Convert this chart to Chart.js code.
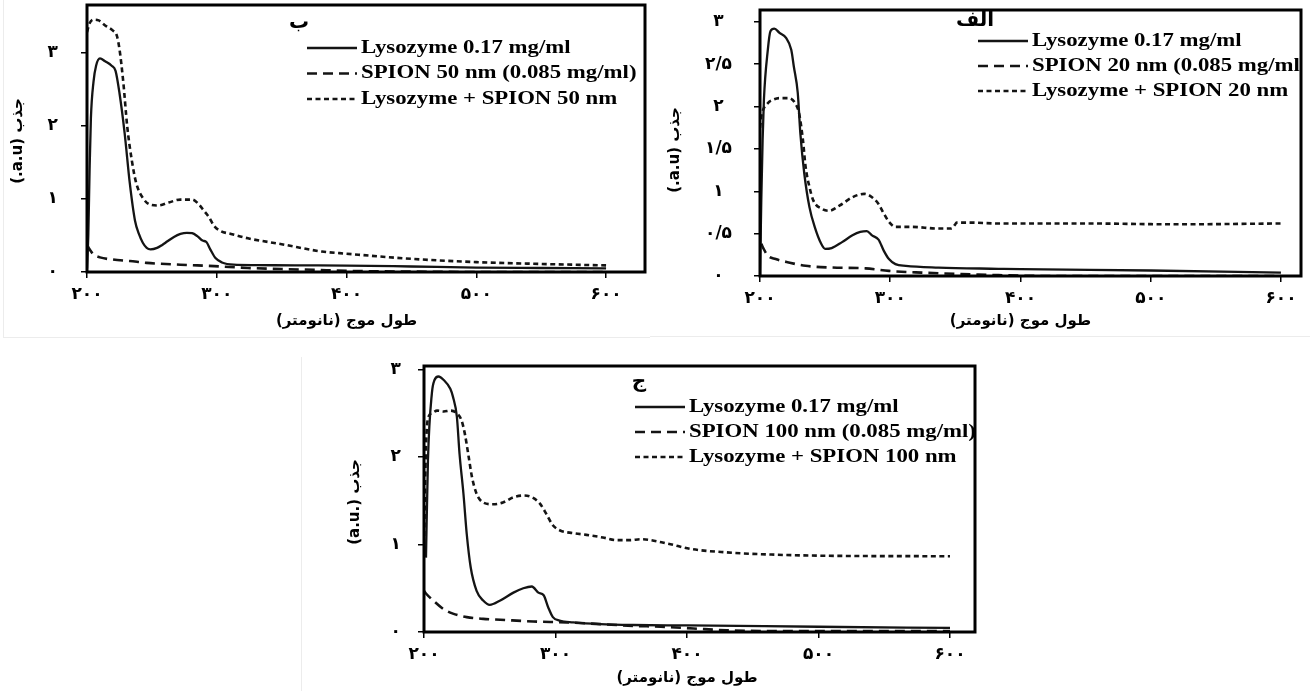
<!DOCTYPE html>
<html lang="fa">
<head>
<meta charset="utf-8">
<title>UV-Vis</title>
<script src="https://cdn.jsdelivr.net/npm/chart.js@4.4.0/dist/chart.umd.min.js"></script>
<style>
  html, body { margin: 0; padding: 0; background: #fff; }
  body { width: 1310px; height: 691px; position: relative; overflow: hidden; }
  .panel { position: absolute; }
  .panel canvas { display: block; }
  .rule { position: absolute; background: #ececec; }
</style>
</head>
<body>
<div class="rule" style="left:3px;top:0;width:1px;height:337px"></div>
<div class="rule" style="left:3px;top:337px;width:647px;height:1px"></div>
<div class="rule" style="left:650px;top:336px;width:660px;height:1px"></div>
<div class="rule" style="left:301px;top:357px;width:1px;height:334px"></div>

<div class="panel" style="left:0;top:0"><canvas id="chart50" width="650" height="340"></canvas></div>
<div class="panel" style="left:650px;top:0"><canvas id="chart20" width="660" height="340"></canvas></div>
<div class="panel" style="left:300px;top:350px"><canvas id="chart100" width="700" height="341"></canvas></div>

<script>
// axis ticks
const nmTicks = [200, 300, 400, 500, 600]
const absTicks = [0, 1, 2, 3]
const absTicksHalf = [0, 0.5, 1, 1.5, 2, 2.5, 3]

// ---- SPION 50 nm (panel ب) ----
const lysoNm50 = [200, 201, 202, 203, 205, 207, 210, 214, 219, 222, 225, 229, 233, 237, 240, 243, 246, 249, 254, 258, 262, 267, 272, 277, 281, 285, 289, 292, 295, 299, 304, 313, 330, 360, 400, 450, 500, 550, 600]
const lysoAbs50 = [0.05, 0.5, 1.4, 2.1, 2.6, 2.82, 2.92, 2.88, 2.82, 2.75, 2.45, 1.9, 1.21, 0.7, 0.52, 0.4, 0.33, 0.31, 0.33, 0.37, 0.42, 0.48, 0.52, 0.535, 0.53, 0.49, 0.43, 0.41, 0.31, 0.19, 0.13, 0.1, 0.095, 0.09, 0.088, 0.075, 0.06, 0.055, 0.05]
const spionNm50 = [200, 202, 205, 210, 220, 233, 246, 272, 298, 324, 350, 375, 391, 400, 420, 450, 500, 600]
const spionAbs50 = [0.37, 0.31, 0.24, 0.2, 0.17, 0.15, 0.125, 0.1, 0.08, 0.055, 0.04, 0.03, 0.02, 0.015, 0.01, 0.005, 0, 0]
const mixNm50 = [200, 202, 205, 209, 214, 220, 223, 225, 228, 231, 234.5, 238, 243.5, 249, 255, 263, 272, 281, 286, 290, 294, 298, 303, 311, 324, 350, 381, 400, 450, 500, 550, 600]
const mixAbs50 = [3.28, 3.4, 3.45, 3.44, 3.37, 3.3, 3.23, 3.05, 2.59, 1.99, 1.53, 1.21, 1.0, 0.92, 0.91, 0.95, 0.99, 0.99, 0.93, 0.84, 0.75, 0.63, 0.56, 0.52, 0.46, 0.38, 0.28, 0.25, 0.18, 0.135, 0.11, 0.09]
const labels50 = ['Lysozyme 0.17 mg/ml', 'SPION 50 nm (0.085 mg/ml)', 'Lysozyme + SPION 50 nm']

// ---- SPION 20 nm (panel الف) ----
const lysoNm20 = [200, 201, 202, 203, 206, 208, 211, 215, 220, 224, 226, 229, 231, 234, 238, 242, 247, 250, 255, 263, 271, 277, 282, 286, 291, 295, 299, 304, 312, 337, 383, 400, 500, 600]
const lysoAbs20 = [0, 0.9, 1.6, 2.08, 2.67, 2.89, 2.92, 2.87, 2.81, 2.67, 2.47, 2.16, 1.68, 1.21, 0.81, 0.58, 0.38, 0.32, 0.33, 0.4, 0.48, 0.52, 0.53, 0.48, 0.43, 0.3, 0.2, 0.14, 0.12, 0.1, 0.085, 0.08, 0.065, 0.04]
const spionNm20 = [201, 202.5, 206, 212, 222, 235, 255, 281, 299, 324, 362, 383, 420, 600]
const spionAbs20 = [0.38, 0.33, 0.24, 0.2, 0.16, 0.12, 0.1, 0.09, 0.06, 0.04, 0.02, 0.01, 0, 0]
const mixNm20 = [200, 201, 206, 210, 215, 222, 227, 230, 233, 235, 238, 241, 248, 253, 261, 271, 280, 286, 291, 295, 299, 304, 316, 337, 347, 349.5, 351, 362, 383, 450, 520, 600]
const mixAbs20 = [1.75, 1.88, 2.04, 2.08, 2.1, 2.1, 2.04, 1.92, 1.6, 1.29, 1.05, 0.89, 0.79, 0.77, 0.83, 0.93, 0.97, 0.93, 0.85, 0.74, 0.64, 0.58, 0.58, 0.56, 0.56, 0.6, 0.63, 0.63, 0.62, 0.62, 0.61, 0.62]
const labels20 = ['Lysozyme 0.17 mg/ml', 'SPION 20 nm (0.085 mg/ml)', 'Lysozyme + SPION 20 nm']

// ---- SPION 100 nm (panel ج) ----
const lysoNm100 = [201.5, 203, 206, 208, 211, 215, 220, 222, 225, 227, 230, 232.5, 235.5, 240, 245, 250, 258, 268, 275.5, 282, 287, 291, 294.5, 298, 303, 313.5, 334, 359, 400, 500, 600]
const lysoAbs100 = [0.85, 1.96, 2.73, 2.88, 2.92, 2.88, 2.78, 2.69, 2.46, 2.04, 1.58, 1.12, 0.74, 0.47, 0.36, 0.31, 0.36, 0.45, 0.5, 0.52, 0.45, 0.42, 0.28, 0.17, 0.13, 0.11, 0.09, 0.08, 0.075, 0.06, 0.046]
const spionNm100 = [200, 201.5, 207, 215, 222, 232.5, 245, 258, 283, 308.5, 334, 359, 380, 405, 430, 470, 600]
const spionAbs100 = [0.47, 0.44, 0.36, 0.26, 0.21, 0.17, 0.15, 0.14, 0.12, 0.11, 0.09, 0.07, 0.06, 0.04, 0.02, 0.01, 0.01]
const mixNm100 = [200, 201.5, 203, 206, 210, 215, 220, 225, 228.5, 231, 234, 236.5, 240, 245, 252.5, 260, 268, 275.5, 282, 288, 293, 298, 303.5, 313.5, 323.5, 336, 346.5, 356.5, 365, 385.5, 402.5, 430, 464, 515, 600]
const mixAbs100 = [1.0, 2.1, 2.44, 2.5, 2.53, 2.52, 2.53, 2.5, 2.42, 2.27, 2.0, 1.77, 1.58, 1.48, 1.46, 1.48, 1.54, 1.56, 1.54, 1.47, 1.35, 1.22, 1.16, 1.13, 1.11, 1.08, 1.05, 1.05, 1.06, 1.01, 0.95, 0.91, 0.885, 0.87, 0.866]
const labels100 = ['Lysozyme 0.17 mg/ml', 'SPION 100 nm (0.085 mg/ml)', 'Lysozyme + SPION 100 nm']

const xTitle = 'طول موج (نانومتر)'

const INK = '#141414'
const FA_DIGITS = '۰۱۲۳۴۵۶۷۸۹'
const faNum = v => String(v).replace('.', '/').replace(/[0-9]/g, d => FA_DIGITS[d])

// solid, long dash, short dash
const lineStyles = [
  { width: 2.3, dash: [] },
  { width: 2.6, dash: [10, 6] },
  { width: 2.6, dash: [5, 3.5] }
]

const tickFont = { family: 'DejaVu Sans', weight: 'bold', size: 17 }

// frame, letter, axis titles and the in-plot legend
const panelDecor = {
  id: 'panelDecor',
  afterDraw(chart, args, o) {
    const { ctx, chartArea: a, scales: { x } } = chart
    ctx.save()
    ctx.fillStyle = '#000'
    ctx.textBaseline = 'middle'

    // legend, clipped to the frame
    ctx.save()
    ctx.beginPath()
    ctx.rect(a.left, a.top, a.right - a.left, a.bottom - a.top)
    ctx.clip()
    ctx.font = 'bold 19px "Liberation Serif"'
    ctx.textAlign = 'left'
    ctx.direction = 'ltr'
    chart.data.datasets.forEach((ds, i) => {
      const yy = o.legendY + i * o.legendGap
      ctx.strokeStyle = INK
      ctx.lineWidth = ds.borderWidth
      ctx.setLineDash(ds.borderDash)
      ctx.beginPath()
      ctx.moveTo(o.legendX, yy)
      ctx.lineTo(o.legendX + 50, yy)
      ctx.stroke()
      ctx.save()
      ctx.translate(o.legendX + 54, yy)
      ctx.scale(1.2, 1)
      ctx.fillText(ds.label, 0, 0)
      ctx.restore()
    })
    ctx.restore()

    ctx.setLineDash([])
    ctx.strokeStyle = '#000'
    ctx.lineWidth = 3
    ctx.strokeRect(a.left, a.top, a.right - a.left, a.bottom - a.top)

    ctx.textAlign = 'center'
    ctx.direction = 'rtl'
    ctx.font = 'bold 20px "DejaVu Sans"'
    ctx.fillText(o.letter, o.letterX, o.letterY)

    ctx.font = 'bold 15px "DejaVu Sans"'
    ctx.fillText(xTitle, x.getPixelForValue(400), o.xTitleY)

    ctx.save()
    ctx.translate(o.yTitleX, o.yTitleY)
    ctx.rotate(-Math.PI / 2)
    ctx.direction = o.yTitleDir
    ctx.fillText(o.yTitle, 0, 0)
    ctx.restore()

    ctx.restore()
  }
}

function buildChart(id, cfg) {
  const datasets = cfg.series.map((s, i) => ({
    label: cfg.labels[i],
    data: s.nm.map((nm, k) => ({ x: nm, y: s.abs[k] })),
    borderColor: INK,
    borderWidth: lineStyles[i].width,
    borderDash: lineStyles[i].dash,
    pointRadius: 0,
    fill: false,
    cubicInterpolationMode: 'monotone'
  }))
  const tickGrid = { drawOnChartArea: false, drawTicks: true, tickLength: 6, color: '#000', lineWidth: 1.5 }

  return new Chart(document.getElementById(id), {
    type: 'line',
    data: { datasets },
    options: {
      responsive: false,
      animation: false,
      devicePixelRatio: 1,
      layout: { padding: cfg.padding },
      plugins: {
        legend: { display: false },
        tooltip: { enabled: false },
        panelDecor: cfg.decor
      },
      scales: {
        x: {
          type: 'linear',
          min: 200,
          max: cfg.xMax,
          afterBuildTicks: s => { s.ticks = nmTicks.map(v => ({ value: v })) },
          afterFit: s => { s.height = cfg.xAxisHeight; s.paddingLeft = 0; s.paddingRight = 0 },
          border: { display: false },
          grid: tickGrid,
          ticks: { padding: 6, color: '#000', font: tickFont, maxRotation: 0, autoSkip: false, callback: v => faNum(v) }
        },
        y: {
          type: 'linear',
          min: 0,
          max: cfg.yMax,
          afterBuildTicks: s => { s.ticks = cfg.yTicks.map(v => ({ value: v })) },
          afterFit: s => { s.width = cfg.yAxisWidth; s.paddingTop = 0; s.paddingBottom = 0 },
          border: { display: false },
          grid: tickGrid,
          ticks: { padding: cfg.yTickPad, crossAlign: 'center', color: '#000', font: tickFont, callback: v => faNum(v) }
        }
      }
    },
    plugins: [panelDecor]
  })
}

buildChart('chart50', {
  series: [{ nm: lysoNm50, abs: lysoAbs50 }, { nm: spionNm50, abs: spionAbs50 }, { nm: mixNm50, abs: mixAbs50 }],
  labels: labels50,
  xMax: 630, yMax: 3.65, yTicks: absTicks,
  padding: { left: 0, top: 5, right: 5, bottom: 0 },
  yAxisWidth: 87, xAxisHeight: 68, yTickPad: 23,
  decor: { letter: 'ب', letterX: 299, letterY: 23, xTitleY: 321, yTitle: 'جذب (a.u.)', yTitleDir: 'rtl', yTitleX: 18, yTitleY: 141, legendX: 307, legendY: 48, legendGap: 25.5 }
})

buildChart('chart20', {
  series: [{ nm: lysoNm20, abs: lysoAbs20 }, { nm: spionNm20, abs: spionAbs20 }, { nm: mixNm20, abs: mixAbs20 }],
  labels: labels20,
  xMax: 615.4, yMax: 3.14, yTicks: absTicksHalf,
  padding: { left: 0, top: 10, right: 9, bottom: 0 },
  yAxisWidth: 110, xAxisHeight: 64, yTickPad: 22,
  decor: { letter: 'الف', letterX: 325, letterY: 21, xTitleY: 321, yTitle: 'جذب (a.u.)', yTitleDir: 'rtl', yTitleX: 25, yTitleY: 150, legendX: 328, legendY: 41, legendGap: 25 }
})

buildChart('chart100', {
  series: [{ nm: lysoNm100, abs: lysoAbs100 }, { nm: spionNm100, abs: spionAbs100 }, { nm: mixNm100, abs: mixAbs100 }],
  labels: labels100,
  xMax: 619, yMax: 3.04, yTicks: absTicks,
  padding: { left: 0, top: 16, right: 25, bottom: 0 },
  yAxisWidth: 124, xAxisHeight: 59, yTickPad: 17,
  decor: { letter: 'ج', letterX: 339, letterY: 32, xTitleY: 328, yTitle: '(a.u.) جذب', yTitleDir: 'ltr', yTitleX: 55, yTitleY: 152, legendX: 335, legendY: 57, legendGap: 25 }
})
</script>
</body>
</html>
